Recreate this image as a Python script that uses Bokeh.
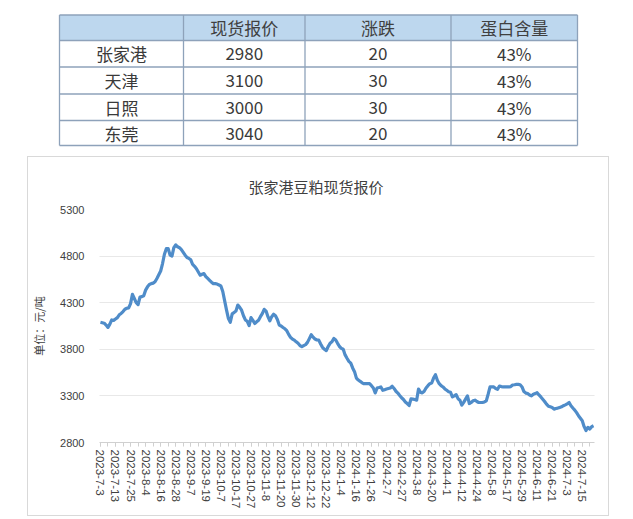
from bokeh.plotting import figure
from bokeh.models import Range1d, FixedTicker, Spacer
from bokeh.layouts import column, row
from bokeh.embed import file_html
from bokeh.resources import INLINE
from bokeh.core.properties import value

# ---------------- table data ----------------
table_header = ["", "现货报价", "涨跌", "蛋白含量"]
table_cities = ["张家港", "天津", "日照", "东莞"]
table_prices = ["2980", "3100", "3000", "3040"]
table_changes = ["20", "30", "30", "20"]
table_protein = ["43%", "43%", "43%", "43%"]

# ---------------- chart data ----------------
x_labels = ["2023-7-3", "2023-7-13", "2023-7-25", "2023-8-4", "2023-8-16", "2023-8-28",
            "2023-9-7", "2023-9-19", "2023-10-7", "2023-10-17", "2023-10-27", "2023-11-8",
            "2023-11-20", "2023-11-30", "2023-12-12", "2023-12-22", "2024-1-4", "2024-1-16",
            "2024-1-26", "2024-2-7", "2024-2-27", "2024-3-8", "2024-3-20", "2024-4-1",
            "2024-4-12", "2024-4-24", "2024-5-8", "2024-5-17", "2024-5-29", "2024-6-11",
            "2024-6-21", "2024-7-3", "2024-7-15"]
label_step = 8

prices = [
    4090, 4085, 4080, 4060, 4035, 4070, 4115, 4110, 4125, 4140,
    4170, 4185, 4205, 4230, 4240, 4245, 4290, 4390, 4345, 4300,
    4280, 4360, 4365, 4375, 4435, 4470, 4495, 4505, 4510, 4525,
    4560, 4600, 4640, 4720, 4820, 4880, 4880, 4810, 4800, 4890,
    4920, 4900, 4890, 4870, 4840, 4810, 4785, 4775, 4760, 4710,
    4690, 4665, 4630, 4595, 4605, 4612, 4580, 4560, 4540, 4520,
    4505, 4505, 4500, 4490, 4480, 4420, 4320, 4220, 4130, 4090,
    4180, 4195, 4210, 4275, 4250, 4220, 4160, 4115, 4100, 4055,
    4140, 4110, 4077, 4095, 4112, 4150, 4183, 4229, 4210, 4150,
    4105, 4150, 4176, 4160, 4120, 4060, 4050, 4034, 4020, 4000,
    3960, 3928, 3910, 3899, 3880, 3864, 3840, 3828, 3840, 3850,
    3874, 3915, 3956, 3930, 3910, 3900, 3899, 3857, 3821, 3800,
    3786, 3830, 3864, 3880, 3917, 3900, 3864, 3830, 3810, 3800,
    3740, 3704, 3670, 3651, 3600, 3560, 3491, 3470, 3456, 3440,
    3431, 3431, 3431, 3431, 3410, 3385, 3332, 3385, 3390, 3396,
    3360, 3367, 3374, 3380, 3385, 3403, 3380, 3350, 3330, 3304,
    3280, 3261, 3235, 3218, 3197, 3268, 3265, 3261, 3254, 3374,
    3340, 3332, 3350, 3385, 3410, 3431, 3438, 3491, 3527, 3467,
    3431, 3410, 3396, 3375, 3360, 3345, 3339, 3289, 3300, 3314,
    3270, 3254, 3200, 3230, 3265, 3300, 3218, 3230, 3247, 3254,
    3240, 3229, 3229, 3229, 3235, 3247, 3318, 3396, 3396, 3396,
    3380, 3371, 3406, 3400, 3396, 3396, 3396, 3396, 3400, 3417,
    3420, 3424, 3424, 3420, 3396, 3346, 3330, 3325, 3310, 3300,
    3318, 3325, 3335, 3310, 3289, 3265, 3240, 3211, 3190, 3183,
    3176, 3158, 3165, 3169, 3176, 3183, 3195, 3204, 3215, 3229,
    3194, 3170, 3148, 3120, 3087, 3060, 3034, 2970, 2928, 2963,
    2945, 2970, 2980,
]
y_ticks = [2800, 3300, 3800, 4300, 4800, 5300]
chart_title = "张家港豆粕现货报价"
y_label = "单位：元/吨"

CJK = "Noto Sans CJK SC"

# ---------------- table figure ----------------
W = 625
TH = 156
tp = figure(width=W, height=TH, x_range=Range1d(0, W), y_range=Range1d(TH, 0),
            output_backend="svg", toolbar_location=None, min_border=0)
tp.axis.visible = False
tp.grid.visible = False
tp.outline_line_color = None
tp.background_fill_color = "white"
tp.border_fill_color = "white"

col_edges = [59, 183, 304.5, 450.5, 577]
row_edges = [14.5, 40, 66.5, 93.5, 120, 145]

tp.quad(left=[col_edges[0]], right=[col_edges[-1]], top=[row_edges[0]], bottom=[row_edges[1]],
        fill_color="#BDD7EE", line_color=None)
line_col = "#8EA2BA"
tp.segment(x0=[col_edges[0]] * len(row_edges), x1=[col_edges[-1]] * len(row_edges),
           y0=row_edges, y1=row_edges, line_color=line_col, line_width=1.3)
tp.segment(x0=col_edges, x1=col_edges, y0=[row_edges[0]] * len(col_edges),
           y1=[row_edges[-1]] * len(col_edges), line_color=line_col, line_width=1.3)

centers_x = [(col_edges[i] + col_edges[i + 1]) / 2 for i in range(4)]
centers_y = [(row_edges[i] + row_edges[i + 1]) / 2 for i in range(5)]

hx, hy, ht = [], [], []
for i, h in enumerate(table_header):
    if h:
        hx.append(centers_x[i]); hy.append(centers_y[0]); ht.append(h)
tp.text(x=hx, y=hy, text=ht, text_align="center", text_baseline="middle",
        text_font=value(CJK), text_font_size="17px", text_color="#404040")

bx, by, bt = [], [], []
for r in range(4):
    vals = [table_cities[r], table_prices[r], table_changes[r], table_protein[r]]
    for c, v in enumerate(vals):
        bx.append(centers_x[c]); by.append(centers_y[r + 1]); bt.append(v)
tp.text(x=bx, y=by, text=bt, text_align="center", text_baseline="middle",
        text_font=value(CJK), text_font_size="17px", text_color="#3A3A3A")

# ---------------- chart figure ----------------
CW, CH = 582, 360
MB_TOP, MB_BOTTOM, MB_LEFT = 52, 75, 69
xs = list(range(len(prices)))
p = figure(width=CW, height=CH, x_range=Range1d(-0.5, len(prices) - 0.5),
           y_range=Range1d(y_ticks[0], y_ticks[-1]),
           output_backend="svg", toolbar_location=None,
           min_border_left=MB_LEFT, min_border_right=16, min_border_top=MB_TOP,
           min_border_bottom=MB_BOTTOM)
p.outline_line_color = None
p.background_fill_color = "white"
p.border_fill_color = "white"
p.styles = {"border": "1px solid #D9D9D9", "box-sizing": "border-box"}

p.title.text = chart_title
p.title.align = "left"
p.title.offset = 149
p.title.standoff = 26
p.title.text_font = CJK
p.title.text_font_size = "15px"
p.title.text_font_style = "normal"
p.title.text_color = "#404040"

p.line(xs, prices, line_color="#4F8CC9", line_width=3.2, line_join="round")

p.yaxis.ticker = FixedTicker(ticks=y_ticks)
p.yaxis.axis_line_color = None
p.yaxis.major_tick_line_color = None
p.yaxis.minor_tick_line_color = None
p.yaxis.major_label_standoff = 9
p.yaxis.major_label_text_font = "Liberation Sans"
p.yaxis.major_label_text_font_size = "11px"
p.yaxis.major_label_text_color = "#404040"
p.yaxis.axis_label = y_label
p.yaxis.axis_label_text_font = CJK
p.yaxis.axis_label_text_font_size = "11px"
p.yaxis.axis_label_text_font_style = "normal"
p.yaxis.axis_label_text_color = "#404040"
p.yaxis.axis_label_standoff = 10

p.xgrid.grid_line_color = None
p.ygrid.grid_line_color = "#D0D0D0"
p.ygrid.grid_line_dash = "1 1"
p.ygrid.grid_line_width = 1

major = [i * label_step for i in range(len(x_labels))]
minor = [i for i in range(0, len(prices), label_step // 2)]
p.xaxis.ticker = FixedTicker(ticks=major, minor_ticks=minor)
p.xaxis.major_label_overrides = {m: lab for m, lab in zip(major, x_labels)}
p.xaxis.major_label_orientation = "vertical"
p.xaxis.major_label_text_font = "Liberation Sans"
p.xaxis.major_label_text_font_size = "11.5px"
p.xaxis.major_label_text_color = "#404040"
p.xaxis.major_label_standoff = 3
p.xaxis.axis_line_color = "#D0D0D0"
p.xaxis.major_tick_line_color = "#D0D0D0"
p.xaxis.minor_tick_line_color = "#D0D0D0"
p.xaxis.major_tick_in = 0
p.xaxis.major_tick_out = 4
p.xaxis.minor_tick_in = 0
p.xaxis.minor_tick_out = 4

layout = column(tp, row(Spacer(width=27, height=CH), p))
open("out.html", "w").write(file_html(layout, INLINE))
